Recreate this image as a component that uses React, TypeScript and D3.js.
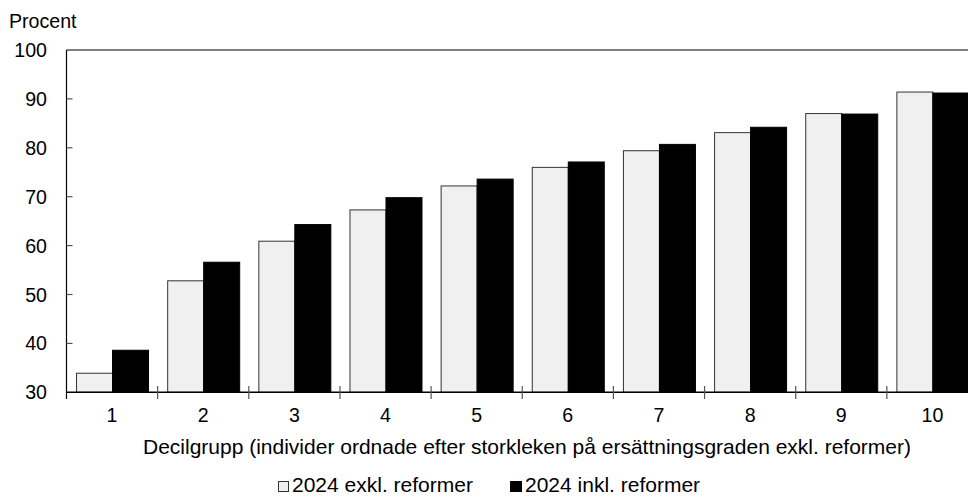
import React from "react";
import * as d3 from "d3";

const categories = ["1", "2", "3", "4", "5", "6", "7", "8", "9", "10"];
const exklValues = [33.9, 52.8, 60.9, 67.3, 72.2, 76.0, 79.4, 83.1, 87.0, 91.4];
const inklValues = [38.6, 56.6, 64.3, 69.8, 73.6, 77.1, 80.7, 84.2, 86.9, 91.2];
const yTicks = [30, 40, 50, 60, 70, 80, 90, 100];
const seriesNames = ["2024 exkl. reformer", "2024 inkl. reformer"];
const yLabel = "Procent";
const xTitle = "Decilgrupp (individer ordnade efter storkleken på ersättningsgraden exkl. reformer)";

export default function App() {
  const W = 968, H = 497;
  const font = "'Liberation Sans', Arial, sans-serif";
  const x = d3.scaleBand<string>().domain(categories).range([66.5, 978]).paddingInner(0).paddingOuter(0);
  const y = d3.scaleLinear().domain([30, 100]).range([392.3, 50]);
  const bw = x.bandwidth();
  const inner = d3.scaleBand<number>().domain([0, 1]).range([bw * 0.11, bw * 0.9]);
  const boundaries = categories.slice(1).map((c) => x(c)!);
  return (
    <svg width={W} height={H} style={{ position: "absolute", left: 0, top: 0 }} fontFamily={font}>
      <text x={9} y={28} fontSize={19.6} fill="#000">{yLabel}</text>
      {categories.map((c, i) => (
        <g key={c}>
          <rect x={x(c)! + inner(0)!} y={y(exklValues[i])} width={inner.bandwidth()} height={y(30) - y(exklValues[i])}
            fill="#f0f0f0" stroke="#333" strokeWidth={1} />
          <rect x={x(c)! + inner(1)!} y={y(inklValues[i])} width={inner.bandwidth()} height={y(30) - y(inklValues[i])}
            fill="#000" stroke="#000" strokeWidth={1} />
        </g>
      ))}
      <line x1={66.5} x2={W} y1={y(100)} y2={y(100)} stroke="#000" strokeWidth={1.2} />
      <line x1={66.5} x2={66.5} y1={y(100)} y2={399} stroke="#000" strokeWidth={1.2} />
      <line x1={66.5} x2={W} y1={y(30)} y2={y(30)} stroke="#000" strokeWidth={1.5} />
      {yTicks.map((t) => (
        <g key={t}>
          {t > 30 && t < 100 && <line x1={66.5} x2={72.5} y1={y(t)} y2={y(t)} stroke="#555" strokeWidth={1.2} />}
          <text x={47} y={y(t)} dy="0.36em" textAnchor="end" fontSize={19.6} fill="#000">{t}</text>
        </g>
      ))}
      {boundaries.map((b, i) => (
        <line key={i} x1={b} x2={b} y1={386} y2={399} stroke="#555" strokeWidth={1.2} />
      ))}
      {categories.map((c) => (
        <text key={c} x={x(c)! + bw / 2} y={422} textAnchor="middle" fontSize={19.6} fill="#000">{c}</text>
      ))}
      <text x={527} y={454} textAnchor="middle" fontSize={21} fill="#000">{xTitle}</text>
      <g>
        <rect x={278.5} y={481.5} width={10} height={10} fill="#f0f0f0" stroke="#333" strokeWidth={1} />
        <text x={292} y={492} fontSize={21} fill="#000">{seriesNames[0]}</text>
        <rect x={510} y={481} width={12} height={11} fill="#000" />
        <text x={525} y={492} fontSize={21} fill="#000">{seriesNames[1]}</text>
      </g>
    </svg>
  );
}
